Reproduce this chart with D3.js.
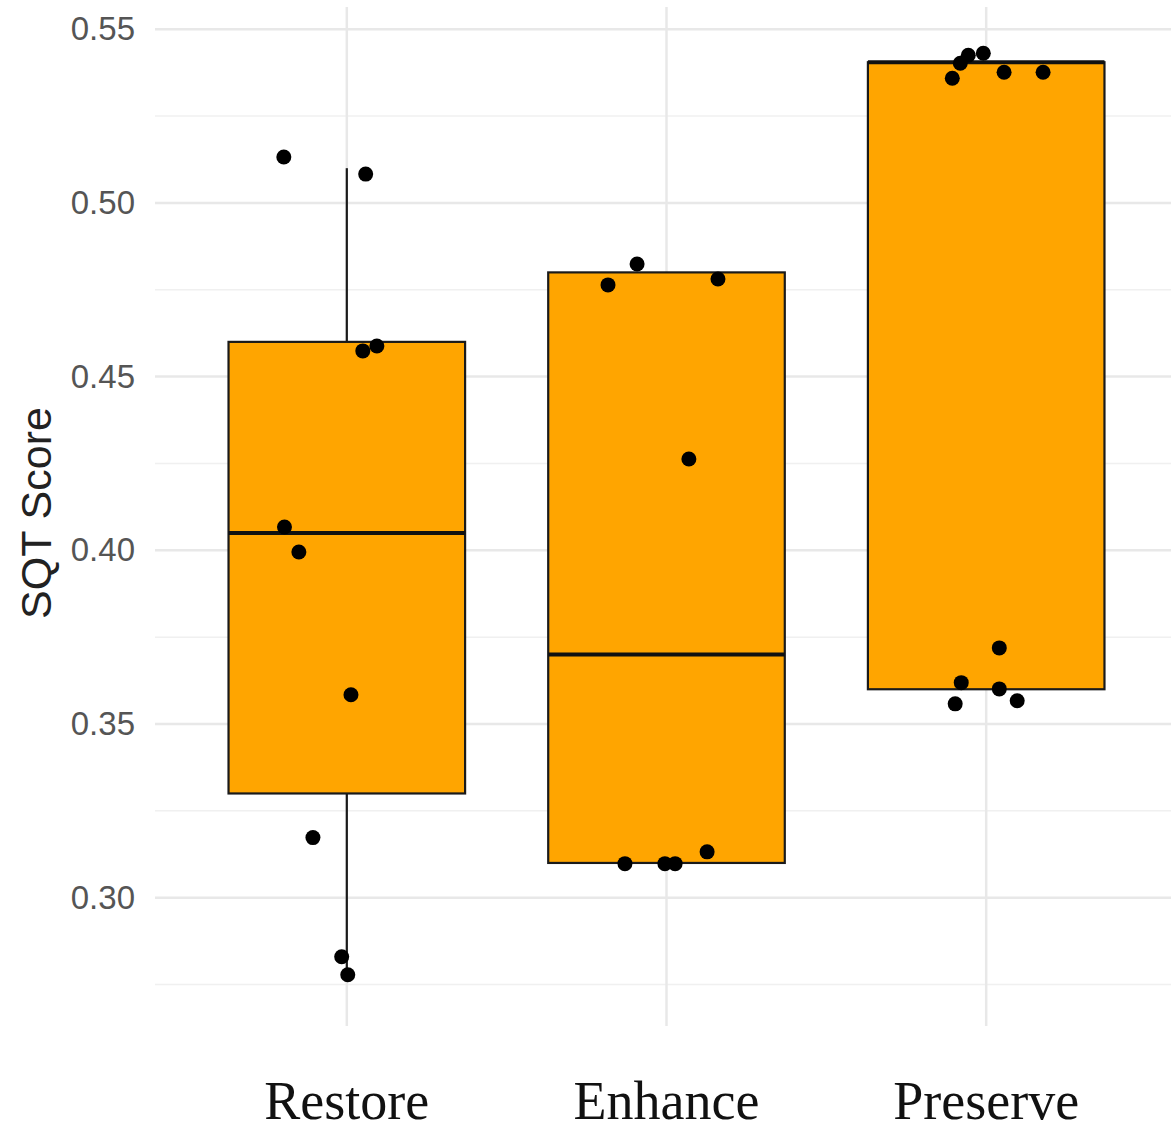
<!DOCTYPE html>
<html>
<head>
<meta charset="utf-8">
<script src="https://cdn.jsdelivr.net/npm/d3@7"></script>
<style>
  body { margin: 0; background: #fff; }
</style>
</head>
<body>
<div id="chart"></div>
<script>
// categories and box stats
const categories = ["Restore", "Enhance", "Preserve"];
const q1 = [0.33, 0.31, 0.36];
const median = [0.405, 0.37, 0.5405];
const q3 = [0.46, 0.48, 0.5405];
const whiskerLow = [0.278, 0.31, 0.36];
const whiskerHigh = [0.51, 0.48, 0.5405];

// jittered points: group, value, horizontal jitter (fraction of category step)
const pointGroup = [
  "Restore", "Restore", "Restore", "Restore", "Restore", "Restore", "Restore", "Restore", "Restore", "Restore",
  "Enhance", "Enhance", "Enhance", "Enhance", "Enhance", "Enhance", "Enhance", "Enhance",
  "Preserve", "Preserve", "Preserve", "Preserve", "Preserve", "Preserve", "Preserve", "Preserve", "Preserve", "Preserve", "Preserve"
];
const pointValue = [
  0.5132, 0.5083, 0.4574, 0.4588, 0.4067, 0.3995, 0.3584, 0.3173, 0.2830, 0.2778,
  0.4764, 0.4824, 0.4781, 0.4263, 0.3098, 0.3098, 0.3098, 0.3132,
  0.5359, 0.5402, 0.5425, 0.5431, 0.5376, 0.5376, 0.3719, 0.3619, 0.3601, 0.3558, 0.3567
];
const pointJitter = [
  -0.197, 0.059, 0.050, 0.094, -0.195, -0.150, 0.013, -0.106, -0.016, 0.003,
  -0.183, -0.092, 0.161, 0.070, -0.130, -0.005, 0.027, 0.127,
  -0.106, -0.081, -0.056, -0.009, 0.056, 0.178, 0.041, -0.078, 0.041, -0.097, 0.097
];

const majorTicks = [0.30, 0.35, 0.40, 0.45, 0.50, 0.55];
const minorTicks = [0.275, 0.325, 0.375, 0.425, 0.475, 0.525];

const width = 1171, height = 1133;
const panel = { left: 155, right: 1178, top: 7, bottom: 1021 };

const svg = d3.select("#chart").append("svg")
    .attr("width", width)
    .attr("height", height);

const x = d3.scalePoint()
    .domain(categories)
    .range([panel.left, panel.right])
    .padding(0.6);

const y = d3.scaleLinear()
    .domain([0.2645, 0.5564])
    .range([panel.bottom, panel.top]);

const step = x.step();
const boxWidth = step * 0.74;

// grid
const grid = svg.append("g");
grid.selectAll(".minor")
    .data(minorTicks)
    .join("line")
    .attr("x1", panel.left).attr("x2", width)
    .attr("y1", d => y(d)).attr("y2", d => y(d))
    .attr("stroke", "#f0f0f0")
    .attr("stroke-width", 1.5);
grid.selectAll(".major")
    .data(majorTicks)
    .join("line")
    .attr("x1", panel.left).attr("x2", width)
    .attr("y1", d => y(d)).attr("y2", d => y(d))
    .attr("stroke", "#e8e8e8")
    .attr("stroke-width", 2.5);
grid.selectAll(".vert")
    .data(categories)
    .join("line")
    .attr("x1", d => x(d)).attr("x2", d => x(d))
    .attr("y1", panel.top).attr("y2", panel.bottom + 5)
    .attr("stroke", "#e8e8e8")
    .attr("stroke-width", 2.5);

// boxes
const boxes = svg.append("g")
    .selectAll("g")
    .data(categories)
    .join("g");

boxes.append("line")
    .attr("x1", d => x(d)).attr("x2", d => x(d))
    .attr("y1", (d, i) => y(whiskerHigh[i]))
    .attr("y2", (d, i) => y(q3[i]))
    .attr("stroke", "#1a1a1a")
    .attr("stroke-width", 2.2);
boxes.append("line")
    .attr("x1", d => x(d)).attr("x2", d => x(d))
    .attr("y1", (d, i) => y(q1[i]))
    .attr("y2", (d, i) => y(whiskerLow[i]))
    .attr("stroke", "#1a1a1a")
    .attr("stroke-width", 2.2);
boxes.append("rect")
    .attr("x", d => x(d) - boxWidth / 2)
    .attr("width", boxWidth)
    .attr("y", (d, i) => y(q3[i]))
    .attr("height", (d, i) => y(q1[i]) - y(q3[i]))
    .attr("fill", "#FFA500")
    .attr("stroke", "#1a1a1a")
    .attr("stroke-width", 2.2);
boxes.append("line")
    .attr("x1", d => x(d) - boxWidth / 2)
    .attr("x2", d => x(d) + boxWidth / 2)
    .attr("y1", (d, i) => y(median[i]))
    .attr("y2", (d, i) => y(median[i]))
    .attr("stroke", "#111")
    .attr("stroke-width", 4);

// jittered points
svg.append("g")
    .selectAll("circle")
    .data(pointValue)
    .join("circle")
    .attr("cx", (d, i) => x(pointGroup[i]) + pointJitter[i] * step)
    .attr("cy", d => y(d))
    .attr("r", 7.5)
    .attr("fill", "#000");

// y axis
const yAxis = d3.axisLeft(y)
    .tickValues(majorTicks)
    .tickFormat(d3.format(".2f"))
    .tickSize(0)
    .tickPadding(20);

const yg = svg.append("g")
    .attr("transform", `translate(${panel.left},0)`)
    .call(yAxis);
yg.select(".domain").remove();
yg.selectAll("text")
    .attr("fill", "#555")
    .style("font-family", "'Liberation Sans', Arial, sans-serif")
    .style("font-size", "33px");

svg.append("text")
    .attr("transform", "translate(51,513) rotate(-90)")
    .attr("text-anchor", "middle")
    .attr("fill", "#222")
    .style("font-family", "'Liberation Sans', Arial, sans-serif")
    .style("font-size", "43px")
    .text("SQT Score");

// x labels
svg.append("g")
    .selectAll("text")
    .data(categories)
    .join("text")
    .attr("x", d => x(d))
    .attr("y", 1119)
    .attr("text-anchor", "middle")
    .attr("fill", "#111")
    .style("font-family", "'Liberation Serif', 'Times New Roman', serif")
    .style("font-size", "54px")
    .text(d => d);
</script>
</body>
</html>
